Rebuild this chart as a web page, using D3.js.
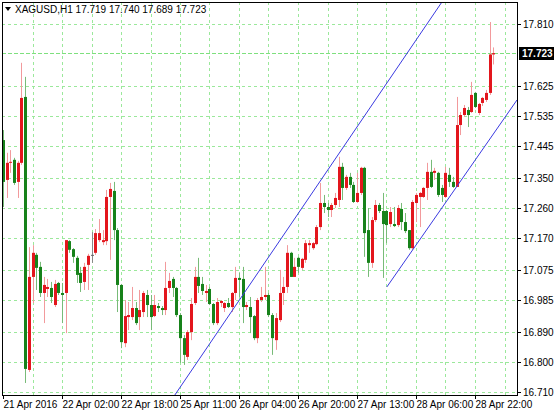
<!DOCTYPE html>
<html><head><meta charset="utf-8">
<script src="https://cdn.jsdelivr.net/npm/d3@7"></script>
<style>body{margin:0;background:#fff}svg{display:block}text{font-family:"Liberation Sans",Arial,sans-serif}</style>
</head><body><svg id="c" width="554" height="416"></svg>
<script>
const opens=[17.463,17.344,17.395,17.404,17.338,17.395,17.592,16.776,17.054,17.120,17.084,17.006,17.018,17.021,16.970,17.036,17.006,17.006,17.161,17.137,17.111,17.066,17.039,17.090,17.120,17.126,17.164,17.158,17.161,17.293,17.311,17.194,17.030,16.856,16.934,16.934,16.961,16.934,16.949,17.000,16.970,16.937,16.967,16.961,16.955,17.021,17.048,17.021,16.940,16.871,16.815,16.889,16.976,17.054,17.033,17.006,17.018,16.973,16.916,16.976,16.961,16.976,16.964,17.006,17.051,17.048,16.964,16.964,16.937,16.871,16.985,16.994,17.000,16.940,16.865,16.925,17.006,17.024,17.126,17.054,17.111,17.081,17.105,17.149,17.140,17.152,17.203,17.275,17.263,17.254,17.269,17.284,17.383,17.320,17.353,17.329,17.278,17.305,17.380,17.194,17.096,17.224,17.269,17.251,17.251,17.212,17.212,17.209,17.257,17.218,17.194,17.140,17.275,17.293,17.293,17.320,17.368,17.365,17.365,17.320,17.293,17.359,17.338,17.323,17.508,17.538,17.553,17.547,17.604,17.544,17.574,17.583,17.604,17.719];
const highs=[17.493,17.425,17.433,17.410,17.401,17.694,17.652,17.143,17.149,17.126,17.099,17.054,17.048,17.039,17.045,17.039,17.036,17.164,17.164,17.140,17.117,17.084,17.096,17.123,17.188,17.197,17.227,17.194,17.314,17.335,17.338,17.200,17.033,16.985,16.979,17.024,16.979,17.015,17.012,17.015,17.000,17.000,16.976,16.967,17.099,17.066,17.054,17.024,16.946,16.880,16.895,16.991,17.084,17.111,17.054,17.030,17.024,16.976,16.991,16.985,16.979,16.991,17.009,17.084,17.066,17.084,16.979,16.994,16.940,16.991,17.024,17.084,17.006,16.946,16.946,17.075,17.054,17.149,17.129,17.111,17.114,17.111,17.164,17.164,17.158,17.209,17.335,17.299,17.275,17.275,17.305,17.413,17.395,17.359,17.365,17.338,17.365,17.383,17.383,17.260,17.233,17.284,17.275,17.305,17.254,17.263,17.263,17.269,17.275,17.245,17.194,17.284,17.305,17.308,17.323,17.395,17.404,17.380,17.368,17.329,17.383,17.380,17.353,17.592,17.547,17.568,17.562,17.637,17.607,17.574,17.592,17.613,17.816,17.740];
const lows=[17.263,17.290,17.365,17.329,17.290,17.389,16.737,16.770,16.976,17.015,16.994,16.916,16.994,16.976,16.964,17.000,16.916,16.886,17.126,17.096,17.036,17.009,17.015,17.015,17.096,17.120,17.158,17.149,17.149,17.105,17.164,16.949,16.841,16.844,16.895,16.925,16.910,16.895,16.934,16.934,16.895,16.934,16.949,16.940,16.940,17.006,16.994,16.934,16.797,16.791,16.806,16.865,16.970,17.006,17.000,16.979,16.970,16.910,16.910,16.964,16.949,16.961,16.949,16.985,16.994,16.916,16.955,16.886,16.865,16.856,16.979,16.985,16.934,16.821,16.836,16.919,16.970,17.006,17.054,17.054,17.066,17.075,17.096,17.126,17.135,17.149,17.194,17.245,17.233,17.233,17.260,17.263,17.284,17.314,17.320,17.275,17.275,17.299,17.114,17.054,17.081,17.218,17.245,17.051,17.155,17.203,17.203,17.203,17.194,17.185,17.135,17.135,17.218,17.203,17.290,17.284,17.320,17.344,17.293,17.278,17.290,17.323,17.320,17.323,17.478,17.532,17.502,17.544,17.559,17.538,17.565,17.577,17.598,17.689];
const closes=[17.338,17.395,17.398,17.335,17.395,17.589,16.779,17.054,17.126,17.081,17.006,17.030,17.024,16.994,17.033,17.006,17.000,17.164,17.135,17.114,17.060,17.036,17.084,17.117,17.120,17.185,17.185,17.164,17.293,17.317,17.194,17.030,16.859,16.937,16.940,16.961,16.916,16.955,17.006,16.970,16.934,16.970,16.961,16.955,17.021,17.042,17.021,16.940,16.871,16.821,16.889,16.973,17.054,17.027,17.012,17.012,16.973,16.916,16.979,16.982,16.976,16.964,17.006,17.051,17.045,16.964,16.970,16.934,16.871,16.985,16.994,17.000,16.940,16.871,16.931,17.006,17.024,17.126,17.054,17.084,17.084,17.108,17.155,17.155,17.155,17.203,17.275,17.263,17.254,17.269,17.290,17.383,17.320,17.353,17.329,17.278,17.305,17.380,17.185,17.096,17.224,17.269,17.251,17.212,17.209,17.248,17.206,17.260,17.218,17.191,17.140,17.278,17.299,17.305,17.320,17.368,17.323,17.371,17.299,17.299,17.365,17.338,17.323,17.508,17.538,17.559,17.538,17.598,17.562,17.571,17.589,17.604,17.719,17.723];
const yTicks=[17.810,17.625,17.535,17.445,17.350,17.260,17.170,17.075,16.985,16.890,16.800,16.710];
const xLabels=["21 Apr 2016","22 Apr 02:00","22 Apr 18:00","25 Apr 11:00","26 Apr 04:00","26 Apr 20:00","27 Apr 13:00","28 Apr 06:00","28 Apr 22:00"];
const lastPrice=17.723;
const channel=[[46.6,16.701,119.05,17.876],[104.1,17.024,139.4,17.583]];

const svg=d3.select("#c");
const L=2,R=517,T=2,B=395;
const n=opens.length;
const x=d3.scaleLinear().domain([0,n-1]).range([3,3+(n-1)*3.6875]);
const y=d3.scaleLinear().domain([16.710,17.810]).range([392,24]);
svg.append("defs").append("clipPath").attr("id","clip").append("rect").attr("x",L).attr("y",T).attr("width",R-L).attr("height",B-T);
const g=svg.append("g").attr("clip-path","url(#clip)");
const grid="#9be89b";
// horizontal grid
g.selectAll(".hg").data(yTicks).enter().append("line").attr("x1",L).attr("x2",R)
 .attr("y1",d=>Math.round(y(d))+0.5).attr("y2",d=>Math.round(y(d))+0.5).attr("stroke",grid).attr("stroke-dasharray","3,3");
// vertical grid
const vg=d3.range(8,n+8,8);
g.selectAll(".vg").data(vg).enter().append("line").attr("y1",T).attr("y2",B)
 .attr("x1",d=>Math.round(x(d))+0.5).attr("x2",d=>Math.round(x(d))+0.5).attr("stroke",grid).attr("stroke-dasharray","3,3");
// last price line
g.append("line").attr("x1",L).attr("x2",R).attr("y1",Math.round(y(lastPrice))+0.5).attr("y2",Math.round(y(lastPrice))+0.5).attr("stroke","#7ee07e").attr("stroke-dasharray","4,2");
// candles
const idx=d3.range(n);
const col=i=>closes[i]>opens[i]?"#e3161d":(closes[i]<opens[i]?"#17821a":"#666");
const wcol=i=>closes[i]>opens[i]?"#f29a9c":(closes[i]<opens[i]?"#78bb78":"#888");
g.selectAll(".w").data(idx).enter().append("line").attr("x1",i=>Math.round(x(i))+0.5).attr("x2",i=>Math.round(x(i))+0.5)
 .attr("y1",i=>y(highs[i])).attr("y2",i=>y(lows[i])).attr("stroke",wcol);
g.selectAll(".b").data(idx).enter().append("rect").attr("x",i=>Math.round(x(i))-1).attr("width",3)
 .attr("y",i=>y(Math.max(opens[i],closes[i]))).attr("height",i=>Math.max(1,Math.abs(y(opens[i])-y(closes[i])))).attr("fill",col);
// channel
g.selectAll(".ch").data(channel).enter().append("line").attr("x1",d=>x(d[0])).attr("y1",d=>y(d[1])).attr("x2",d=>x(d[2])).attr("y2",d=>y(d[3])).attr("stroke","#3a3ae0").attr("stroke-width",1);
// frame
svg.append("rect").attr("x",L+0.5).attr("y",T+0.5).attr("width",R-L).attr("height",B-T).attr("fill","none").attr("stroke","#000");
// y axis
const ya=svg.append("g");
yTicks.forEach(t=>{const yy=Math.round(y(t))+0.5;
 ya.append("line").attr("x1",R).attr("x2",R+4).attr("y1",yy).attr("y2",yy).attr("stroke","#000");
 ya.append("text").attr("x",R+6).attr("y",yy+3.5).attr("font-size",10).text(t.toFixed(3));});
svg.append("rect").attr("x",R+2).attr("y",Math.round(y(lastPrice))-6).attr("width",35).attr("height",13).attr("fill","#000");
svg.append("text").attr("x",R+5).attr("y",Math.round(y(lastPrice))+4).attr("font-size",10).attr("font-weight","bold").attr("fill","#fff").text(lastPrice.toFixed(3));
// x axis
xLabels.forEach((t,k)=>{const xx=Math.round(x(k*16))+0.5;
 svg.append("line").attr("x1",xx).attr("x2",xx).attr("y1",B).attr("y2",B+4).attr("stroke","#000");
 svg.append("text").attr("x",xx).attr("y",B+13).attr("font-size",10).text(t);});
// title
svg.append("path").attr("d","M5,7 L11,7 L8,11 Z").attr("fill","#000");
svg.append("text").attr("x",15).attr("y",13).attr("font-size",10).text("XAGUSD,H1  "+[17.719,17.740,17.689,17.723].map(v=>v.toFixed(3)).join(" "));
</script></body></html>
